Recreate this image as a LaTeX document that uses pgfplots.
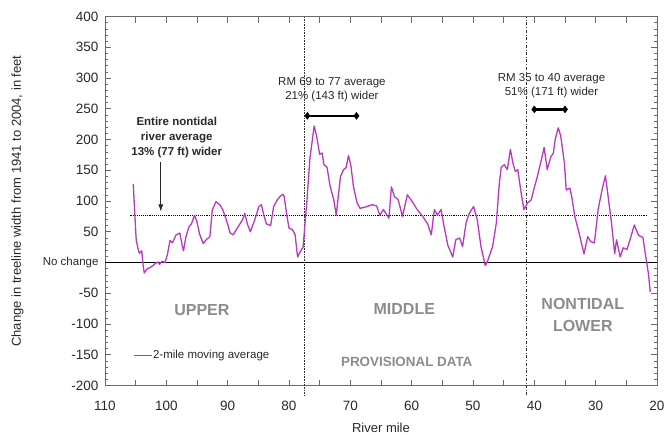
\documentclass[border=0pt]{standalone}
\usepackage{pgfplots}
\pgfplotsset{compat=1.18}
\usepackage{fontspec}
\setmainfont{Liberation Sans}
\usetikzlibrary{arrows.meta}
\definecolor{mycurve}{RGB}{185,55,195}
\definecolor{regiongray}{RGB}{140,140,140}
\definecolor{frame}{RGB}{105,105,105}
\definecolor{txt}{RGB}{40,40,40}
\begin{document}
\begin{tikzpicture}
\path[use as bounding box] (-105pt,-48.5pt) rectangle (561pt,385.5pt);
\begin{axis}[
  scale only axis, width=552pt, height=369pt,
  x dir=reverse, xmin=20, xmax=110, ymin=-200, ymax=400,
  xtick={20,30,...,110},
  extra x ticks={25,35,...,105}, extra x tick labels={},
  ytick={-200,-150,...,400},
  yticklabels={-200,-150,-100,-50,{\fontsize{11.5}{13}\selectfont No change},50,100,150,200,250,300,350,400},
  minor y tick num=4,
  tick align=inside,
  major tick length=6pt, minor tick length=3pt,
  tick style={frame, line width=0.6pt},
  axis line style={frame, line width=0.8pt},
  /pgf/number format/assume math mode=true,
  ticklabel style={font=\fontsize{13.5}{15}\selectfont, text=txt},
  xticklabel style={yshift=-12pt},
  yticklabel style={xshift=-3pt},
  xlabel={River mile}, ylabel={Change in treeline width from 1941 to 2004, in feet},
  label style={font=\fontsize{13}{15}\selectfont, text=txt},
  xlabel style={at={(axis description cs:0.5,-0.114)}, anchor=center},
  ylabel style={at={(axis description cs:-0.1585,0.5)}, anchor=center},
  clip=false,
]
% reference lines
\addplot[black, line width=1pt, forget plot] coordinates {(110,0) (20,0)};
\addplot[black, densely dotted, line width=0.9pt, forget plot] coordinates {(106,77) (21.5,77)};
\addplot[black!80, densely dotted, line width=0.6pt, forget plot] coordinates {(77.5,-216) (77.5,400)};
\addplot[black!80, dash dot, line width=0.6pt, forget plot] coordinates {(41.3,-216) (41.3,400)};
% range bars
\addplot[black, line width=2.4pt, mark=diamond*, mark size=3.5pt, mark options={solid, line width=0.4pt}, forget plot] coordinates {(77,238.5) (69,238.5)};
\addplot[black, line width=2.4pt, mark=diamond*, mark size=3.5pt, mark options={solid, line width=0.4pt}, forget plot] coordinates {(40,249) (35,249)};
% legend sample
\addplot[color=mycurve, line width=1.3pt, forget plot] coordinates {(105.3,-151) (102.4,-151)};
\node[anchor=west, font=\fontsize{11.5}{13}\selectfont, text=txt, inner sep=0pt] at (axis cs:102.2,-151) {2-mile moving average};
% curve
\addplot[color=mycurve, line width=1.3pt, line join=round, mark=none, forget plot] table {
x y
105.4 128
105.2 91
105.0 52
104.9 36
104.6 22
104.4 15
104.0 19
103.8 -3
103.6 -17
103.1 -10
102.6 -8
102.2 -5
101.7 -1
101.4 1
101.1 -3
100.7 2
100.2 0
99.8 14
99.4 36
99.0 32
98.4 45
97.8 48
97.4 27
97.2 19
96.8 42
96.3 58
95.9 63
95.4 77
95.0 66
94.6 47
94.0 31
93.5 37
92.9 42
92.5 86
91.9 99
91.3 94
90.8 86
90.2 69
89.6 48
89.1 45
88.3 58
87.6 69
87.2 80
86.8 63
86.3 50
85.6 69
84.9 91
84.5 94
84.1 77
83.7 63
83.0 60
82.5 91
81.9 102
81.5 107
81.0 111
80.8 108
80.4 80
80.0 56
79.4 53
79.0 45
78.6 9
78.2 17
77.7 25
77.4 62
77.1 97
76.6 168
75.9 222
75.5 206
75.0 176
74.6 178
74.3 159
73.8 155
73.3 124
72.7 102
72.3 77
71.6 140
71.1 151
70.7 154
70.3 174
69.9 157
69.5 124
68.9 97
68.4 88
67.3 91
66.4 94
65.7 92
65.2 77
64.6 86
63.7 72
63.3 123
62.8 107
62.2 102
61.5 75
60.7 110
59.9 99
59.1 86
58.2 75
57.4 63
56.8 45
56.3 86
55.8 77
55.2 86
54.7 58
54.1 28
53.3 9
52.8 37
52.2 40
51.7 26
51.1 66
50.6 80
49.9 91
49.3 69
48.7 26
48.0 -5
47.6 3
46.8 26
46.2 64
45.7 129
45.4 155
44.9 159
44.4 151
43.9 184
43.5 162
43.1 148
42.7 151
42.1 110
41.7 86
41.1 97
40.5 102
40.0 122
39.5 140
38.9 165
38.4 187
37.9 151
37.3 172
36.9 178
36.6 200
36.1 219
35.7 206
35.1 162
34.8 118
34.2 121
33.9 107
33.4 75
32.7 48
31.9 14
31.3 42
30.8 34
30.2 32
29.6 86
28.9 121
28.4 141
27.9 102
27.4 63
26.9 14
26.6 37
26.0 9
25.5 24
24.9 21
24.4 37
23.7 61
23.0 44
22.3 41
21.9 14
21.4 -18
21.1 -48
};
% annotations
\node[font=\bfseries\fontsize{11.5}{14.8}\selectfont, text=txt, align=center] at (axis cs:98.3,203) {Entire nontidal\\river average\\13\% (77 ft) wider};
\draw[txt, line width=0.7pt, -{Latex[length=7pt,width=5pt]}] (axis cs:100.9,163) -- (axis cs:100.9,83);
\node[font=\fontsize{11.5}{14}\selectfont, text=txt, align=center] at (axis cs:73,281) {RM 69 to 77 average\\21\% (143 ft) wider};
\node[font=\fontsize{11.5}{14}\selectfont, text=txt, align=center] at (axis cs:37.2,287) {RM 35 to 40 average\\51\% (171 ft) wider};
\node[font=\bfseries\fontsize{16}{22}\selectfont, text=regiongray] at (axis cs:94.2,-77) {UPPER};
\node[font=\bfseries\fontsize{16}{22}\selectfont, text=regiongray] at (axis cs:61.2,-75) {MIDDLE};
\node[font=\bfseries\fontsize{16}{22}\selectfont, text=regiongray, align=center] at (axis cs:32.1,-86) {NONTIDAL\\LOWER};
\node[font=\bfseries\fontsize{13.4}{16}\selectfont, text=regiongray] at (axis cs:60.8,-161) {PROVISIONAL DATA};
\end{axis}
\end{tikzpicture}
\end{document}
